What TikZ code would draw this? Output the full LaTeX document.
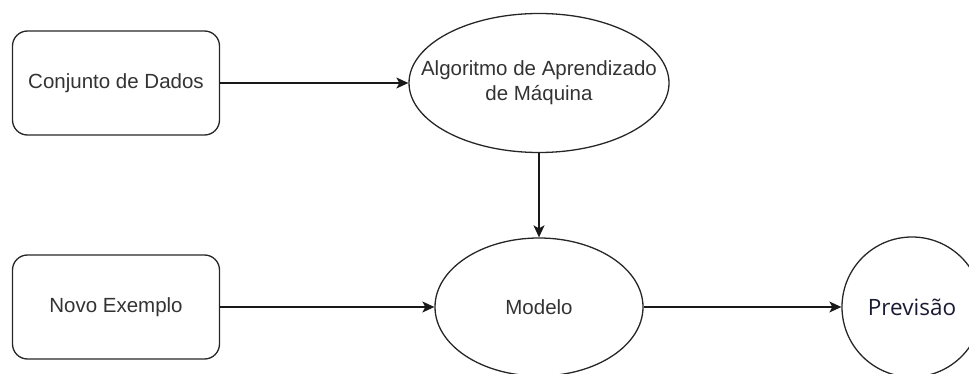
\documentclass[tikz,border=0pt]{standalone}
\usepackage{fontspec}
\setmainfont{Liberation Sans}
\newfontfamily\prevfont{Open Sans}
\usetikzlibrary{shapes.geometric,arrows.meta}

\definecolor{txtgray}{HTML}{333333}
\definecolor{txtnavy}{HTML}{1A1A33}

\begin{document}
\begin{tikzpicture}[
            x=1pt, y=-1pt,
            caixa/.style={draw=black!85, line width=1.3pt, rounded corners=15pt,
                minimum width=207pt, minimum height=104pt, inner sep=0pt,
                font=\fontsize{20.5}{25}\selectfont, text=txtgray},
            elipse/.style={ellipse, draw=black!85, line width=1.3pt, inner sep=0pt,
                font=\fontsize{20.5}{25}\selectfont, text=txtgray, align=center},
            circulo/.style={circle, draw=black!85, line width=1.3pt, inner sep=0pt,
                minimum size=140pt, font=\prevfont\fontsize{22.5}{27}\selectfont, text=txtnavy},
            seta/.style={-{Stealth[length=12pt,width=11pt,inset=3pt]}, line width=1.3pt, draw=black!90},
        ]
        \useasboundingbox (0,0) rectangle (969,374);
        % linha de cima
        \node[caixa] (dados) at (116,83) {Conjunto de Dados};
        \node[elipse, inner xsep=-40pt, minimum width=260pt, minimum height=139pt] (algo) at (539,83)
            {Algoritmo de Aprendizado\\de Máquina};
        % linha de baixo
        \node[caixa] (novo) at (116,307) {Novo Exemplo};
        \node[elipse, minimum width=208pt, minimum height=138pt] (modelo) at (539,307) {Modelo};
        \node[circulo] (prev) at (912,307) {Previsão};
        % setas
        \draw[seta] (dados.east) -- (algo.west);
        \draw[seta] (algo.south) -- (modelo.north);
        \draw[seta] (novo.east) -- (modelo.west);
        \draw[seta] (modelo.east) -- (prev.west);
    \end{tikzpicture}
\end{document}
